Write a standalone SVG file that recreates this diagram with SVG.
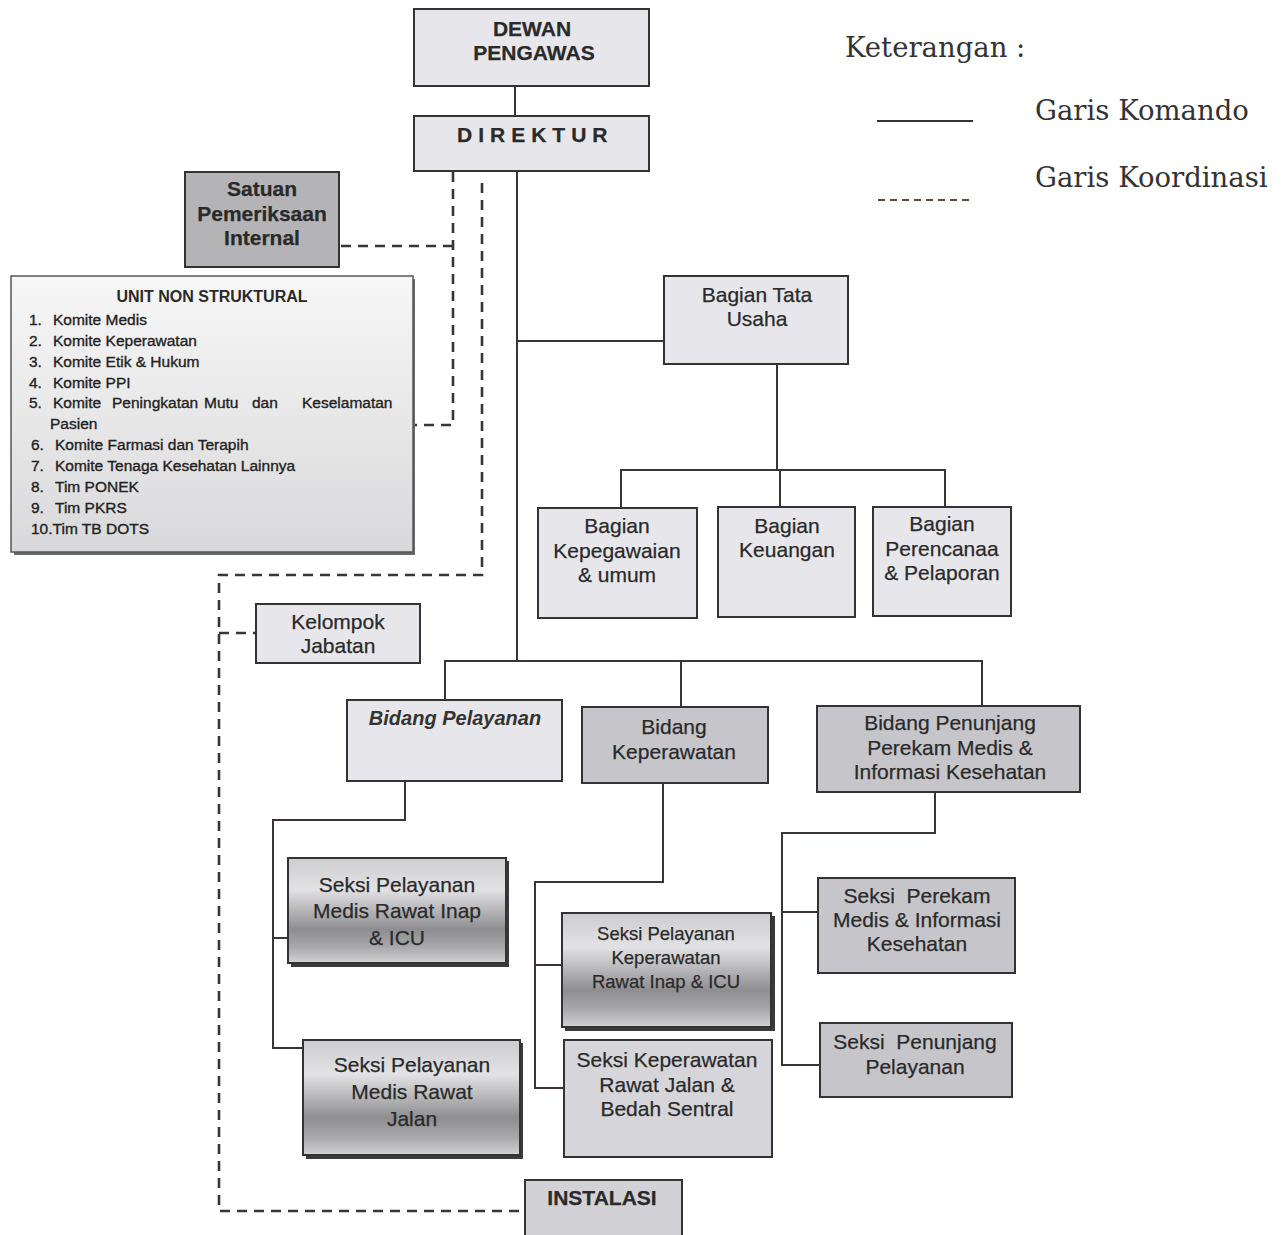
<svg xmlns="http://www.w3.org/2000/svg" width="1286" height="1235" viewBox="0 0 1286 1235">
<defs>
<style>
.box{stroke:#333;stroke-width:2}
.light{fill:#e7e7eb}
.mid{fill:#c6c6ca}
.dark{fill:#b4b4b7}
.shine{fill:url(#shine)}
.unit{fill:url(#unitg)}
.shadow{fill:#3a3a3a}
.t{font-family:"Liberation Sans",Arial,sans-serif;fill:#2a2a2a;text-anchor:middle;font-size:21px;stroke:#2a2a2a;stroke-width:0.25}
.b{font-weight:bold}
.li{font-family:"Liberation Sans",Arial,sans-serif;fill:#222;font-size:15.5px;stroke:#222;stroke-width:0.35}
.leg{font-family:"DejaVu Serif","Liberation Serif",serif;fill:#333;font-size:27.5px}
.cmd{fill:none;stroke:#3a3434;stroke-width:2}
.crd{fill:none;stroke:#3a3434;stroke-width:2.6;stroke-dasharray:10 7}
</style>
<linearGradient id="shine" x1="0" y1="0" x2="0" y2="1">
<stop offset="0" stop-color="#cdcdcf"/>
<stop offset="0.3" stop-color="#e2e2e4"/>
<stop offset="0.68" stop-color="#8e8e90"/>
<stop offset="0.85" stop-color="#a9a9ab"/>
<stop offset="1" stop-color="#d2d2d4"/>
</linearGradient>
<linearGradient id="unitg" x1="0" y1="0" x2="0" y2="1">
<stop offset="0" stop-color="#f7f7f7"/>
<stop offset="1" stop-color="#d9d9db"/>
</linearGradient>
</defs>
<rect width="1286" height="1235" fill="#ffffff"/>

<g id="connectors">
<path class="cmd" d="M515 87V115"/>
<path class="cmd" d="M517 172V662"/>
<path class="cmd" d="M517 341H663"/>
<path class="cmd" d="M777 364V470M621 508V470H945V507M780 470V507"/>
<path class="cmd" d="M445 700V661H982V706M681 661V707"/>
<path class="cmd" d="M405 780V820H273V1048H303M273 938H288"/>
<path class="cmd" d="M663 783V882H535V1088H563M535 965H562"/>
<path class="cmd" d="M935 792V833H782V1065H820M782 912H818"/>
<path class="crd" d="M453 172V425H414M453 246H339"/>
<path class="crd" d="M482 183V575H219V1211H525M219 633H255"/>
</g>

<g id="legend">
<text class="leg" x="845" y="57">Keterangan :</text>
<path d="M877 121H973" stroke="#333" stroke-width="2"/>
<text class="leg" x="1035" y="120">Garis Komando</text>
<path d="M878 200H972" stroke="#5a4a40" stroke-width="2" stroke-dasharray="7 5"/>
<text class="leg" x="1035" y="187">Garis Koordinasi</text>
</g>

<g id="dewan-pengawas">
<rect class="box light" x="414" y="9" width="235" height="77"/>
<text class="t b" x="532" y="36">DEWAN</text>
<text class="t b" x="534" y="60">PENGAWAS</text>
</g>

<g id="direktur">
<rect class="box light" x="414" y="116" width="235" height="55"/>
<text class="t b" x="457" y="142" style="text-anchor:start;letter-spacing:6px">DIREKTUR</text>
</g>

<g id="satuan-pemeriksaan-internal">
<rect class="box dark" x="185" y="172" width="154" height="95"/>
<text class="t b" x="262" y="196">Satuan</text>
<text class="t b" x="262" y="221">Pemeriksaan</text>
<text class="t b" x="262" y="245">Internal</text>
</g>

<g id="unit-non-struktural">
<rect x="14" y="279" width="401" height="276" fill="#6a6a6a"/>
<rect class="unit" x="11" y="276" width="402" height="276" stroke="#555" stroke-width="1.5"/>
<text class="t b" x="212" y="302" style="font-size:16px;stroke-width:0">UNIT NON STRUKTURAL</text>
<text class="li" x="29" y="325">1.</text><text class="li" x="53" y="325">Komite Medis</text>
<text class="li" x="29" y="346">2.</text><text class="li" x="53" y="346">Komite Keperawatan</text>
<text class="li" x="29" y="367">3.</text><text class="li" x="53" y="367">Komite Etik &amp; Hukum</text>
<text class="li" x="29" y="388">4.</text><text class="li" x="53" y="388">Komite PPI</text>
<text class="li" x="29" y="408">5.</text><text class="li" y="408"><tspan x="53">Komite</tspan><tspan x="112">Peningkatan</tspan><tspan x="204">Mutu</tspan><tspan x="252">dan</tspan><tspan x="302">Keselamatan</tspan></text>
<text class="li" x="50" y="429">Pasien</text>
<text class="li" x="31" y="450">6.</text><text class="li" x="55" y="450">Komite Farmasi dan Terapih</text>
<text class="li" x="31" y="471">7.</text><text class="li" x="55" y="471">Komite Tenaga Kesehatan Lainnya</text>
<text class="li" x="31" y="492">8.</text><text class="li" x="55" y="492">Tim PONEK</text>
<text class="li" x="31" y="513">9.</text><text class="li" x="55" y="513">Tim PKRS</text>
<text class="li" x="31" y="534">10.Tim TB DOTS</text>
</g>

<g id="bagian-tata-usaha">
<rect class="box light" x="664" y="276" width="184" height="88"/>
<text class="t" x="757" y="302">Bagian Tata</text>
<text class="t" x="757" y="326">Usaha</text>
</g>

<g id="bagian-kepegawaian">
<rect class="box light" x="538" y="508" width="159" height="110"/>
<text class="t" x="617" y="533">Bagian</text>
<text class="t" x="617" y="558">Kepegawaian</text>
<text class="t" x="617" y="582">&amp; umum</text>
</g>

<g id="bagian-keuangan">
<rect class="box light" x="718" y="507" width="137" height="110"/>
<text class="t" x="787" y="533">Bagian</text>
<text class="t" x="787" y="557">Keuangan</text>
</g>

<g id="bagian-perencanaan">
<rect class="box light" x="873" y="507" width="138" height="109"/>
<text class="t" x="942" y="531">Bagian</text>
<text class="t" x="942" y="556">Perencanaa</text>
<text class="t" x="942" y="580">&amp; Pelaporan</text>
</g>

<g id="kelompok-jabatan">
<rect class="box light" x="256" y="604" width="164" height="59"/>
<text class="t" x="338" y="629">Kelompok</text>
<text class="t" x="338" y="653">Jabatan</text>
</g>

<g id="bidang-pelayanan">
<rect class="box light" x="347" y="700" width="215" height="81"/>
<text class="t b" x="455" y="725" style="font-size:20px;font-style:italic;fill:#333;stroke-width:0">Bidang Pelayanan</text>
</g>

<g id="bidang-keperawatan">
<rect class="box mid" x="582" y="707" width="186" height="76"/>
<text class="t" x="674" y="734">Bidang</text>
<text class="t" x="674" y="759">Keperawatan</text>
</g>

<g id="bidang-penunjang">
<rect class="box mid" x="817" y="706" width="263" height="86"/>
<text class="t" x="950" y="730">Bidang Penunjang</text>
<text class="t" x="950" y="755">Perekam Medis &amp;</text>
<text class="t" x="950" y="779">Informasi Kesehatan</text>
</g>

<g id="seksi-medis-rawat-inap">
<rect class="shadow" x="291" y="861" width="218" height="106"/>
<rect class="box shine" x="288" y="858" width="218" height="105"/>
<text class="t" x="397" y="892">Seksi Pelayanan</text>
<text class="t" x="397" y="918">Medis Rawat Inap</text>
<text class="t" x="397" y="945">&amp; ICU</text>
</g>

<g id="seksi-medis-rawat-jalan">
<rect class="shadow" x="306" y="1043" width="217" height="116"/>
<rect class="box shine" x="303" y="1040" width="217" height="115"/>
<text class="t" x="412" y="1072">Seksi Pelayanan</text>
<text class="t" x="412" y="1099">Medis Rawat</text>
<text class="t" x="412" y="1126">Jalan</text>
</g>

<g id="seksi-keperawatan-rawat-inap">
<rect class="shadow" x="565" y="916" width="210" height="115"/>
<rect class="box shine" x="562" y="913" width="209" height="114"/>
<text class="t" x="666" y="940" style="font-size:18.5px">Seksi Pelayanan</text>
<text class="t" x="666" y="964" style="font-size:18.5px">Keperawatan</text>
<text class="t" x="666" y="988" style="font-size:18.5px">Rawat Inap &amp; ICU</text>
</g>

<g id="seksi-keperawatan-rawat-jalan">
<rect class="box" fill="#d6d6da" x="564" y="1040" width="208" height="117"/>
<text class="t" x="667" y="1067">Seksi Keperawatan</text>
<text class="t" x="667" y="1092">Rawat Jalan &amp;</text>
<text class="t" x="667" y="1116">Bedah Sentral</text>
</g>

<g id="seksi-perekam-medis">
<rect class="box mid" x="818" y="878" width="197" height="95"/>
<text class="t" x="917" y="903" xml:space="preserve">Seksi  Perekam</text>
<text class="t" x="917" y="927">Medis &amp; Informasi</text>
<text class="t" x="917" y="951">Kesehatan</text>
</g>

<g id="seksi-penunjang-pelayanan">
<rect class="box mid" x="820" y="1023" width="192" height="74"/>
<text class="t" x="915" y="1049" xml:space="preserve">Seksi  Penunjang</text>
<text class="t" x="915" y="1074">Pelayanan</text>
</g>

<g id="instalasi">
<rect class="box" fill="#d2d2d6" x="525" y="1180" width="157" height="60"/>
<text class="t b" x="602" y="1205">INSTALASI</text>
</g>
</svg>
